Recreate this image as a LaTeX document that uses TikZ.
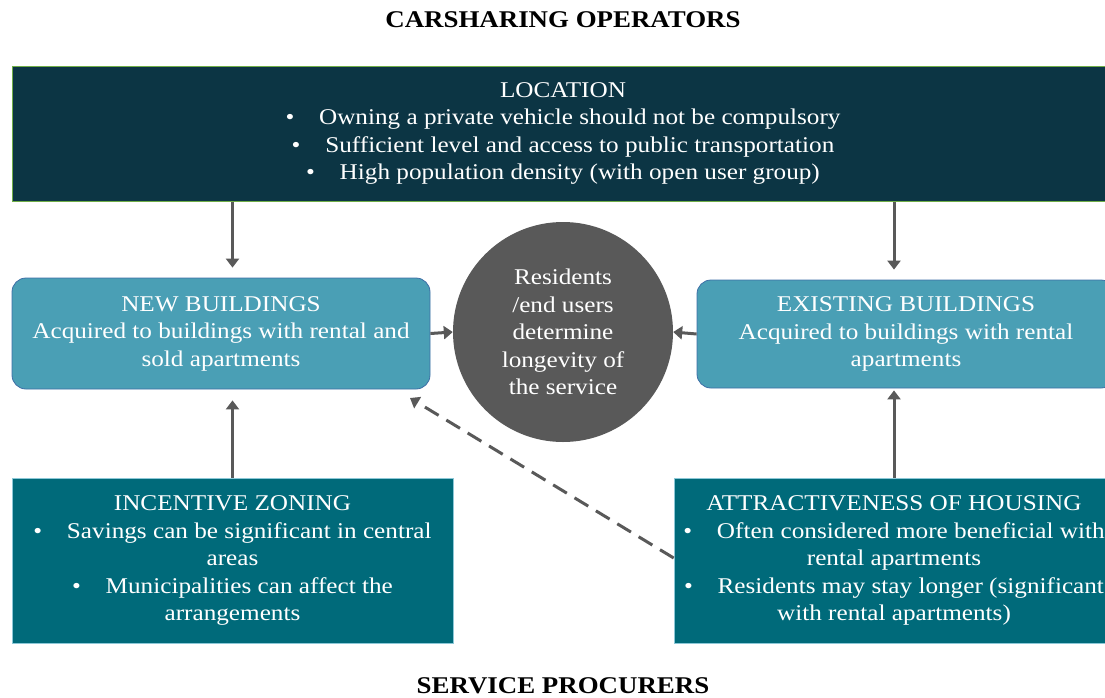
\documentclass[tikz,border=0pt]{standalone}
\usepackage{fontspec}
\setmainfont{Liberation Serif}[FakeStretch=1.12]
\usetikzlibrary{arrows.meta}
\definecolor{topfill}{RGB}{12,53,68}
\definecolor{topline}{RGB}{112,173,71}
\definecolor{bluefill}{RGB}{74,159,181}
\definecolor{blueline}{RGB}{62,110,166}
\definecolor{circfill}{RGB}{89,89,89}
\definecolor{botfill}{RGB}{0,106,122}
\definecolor{botline}{RGB}{140,200,215}
\definecolor{arrcol}{RGB}{89,89,89}
\tikzset{
  boxtext/.style={text=white, align=center, font=\fontsize{22.5}{27.5}\selectfont, inner sep=0pt},
  topbox/.style={boxtext, rectangle, fill=topfill, draw=topline, line width=1pt},
  bluebox/.style={boxtext, rectangle, rounded corners=14pt, fill=bluefill, draw=blueline, line width=0.8pt},
  botbox/.style={boxtext, rectangle, fill=botfill, draw=botline, line width=0.6pt},
  circ/.style={boxtext, circle, fill=circfill, draw=none},
  heading/.style={font=\fontsize{24}{28}\selectfont\bfseries, text=black},
  arr/.style={draw=arrcol, line width=3pt, -{Triangle[length=9pt,width=13pt]}},
  dasharr/.style={arr, dash pattern=on 16pt off 9pt}
}
\newcommand{\bul}{\textbullet\hspace{1.1em}}
\begin{document}
\begin{tikzpicture}[x=1pt,y=-1pt]
\useasboundingbox (0,0) rectangle (1105,697);
\node[heading] (titletop) at (563,20) {CARSHARING OPERATORS};
\node[heading] (titlebot) at (563,686) {SERVICE PROCURERS};

\node[topbox, minimum width=1102pt, minimum height=135pt] (top) at (563,133.5)
  {LOCATION\\ \bul Owning a private vehicle should not be compulsory\\ \bul Sufficient level and access to public transportation\\ \bul High population density (with open user group)};

\node[bluebox, minimum width=418pt, minimum height=111pt] (new) at (221,333.5)
  {NEW BUILDINGS\\ Acquired to buildings with rental and\\ sold apartments};
\node[bluebox, minimum width=418pt, minimum height=108pt] (exist) at (906,334)
  {EXISTING BUILDINGS\\ Acquired to buildings with rental\\ apartments};

\node[circ, minimum size=220pt] (res) at (563,332)
  {Residents\\ /end users\\ determine\\ longevity of\\ the service};

\node[botbox, minimum width=441pt, minimum height=165pt] (inc) at (232.5,560.5)
  {INCENTIVE ZONING\\ \bul Savings can be significant in central\\ areas\\ \bul Municipalities can affect the\\ arrangements};
\node[botbox, minimum width=440pt, minimum height=165pt] (att) at (894,560.5)
  {ATTRACTIVENESS OF HOUSING\\ \bul Often considered more beneficial with\\ rental apartments\\ \bul Residents may stay longer (significant\\ with rental apartments)};

\coordinate (dashend) at (410,398);

\draw[arr] (top.south -| inc.north) -- ([yshift=10pt]new.north -| inc.north);
\draw[arr] (top.south -| att.north) -- ([yshift=10pt]exist.north -| att.north);
\draw[arr] (inc.north) -- ([yshift=-11pt]new.south -| inc.north);
\draw[arr] (att.north) -- ([yshift=-2pt]exist.south -| att.north);
\draw[arr] (new.east) -- (res.west);
\draw[arr] (exist.west) -- (res.east);
\draw[dasharr] (att.west |- 0,558) -- (dashend);
\end{tikzpicture}
\end{document}
